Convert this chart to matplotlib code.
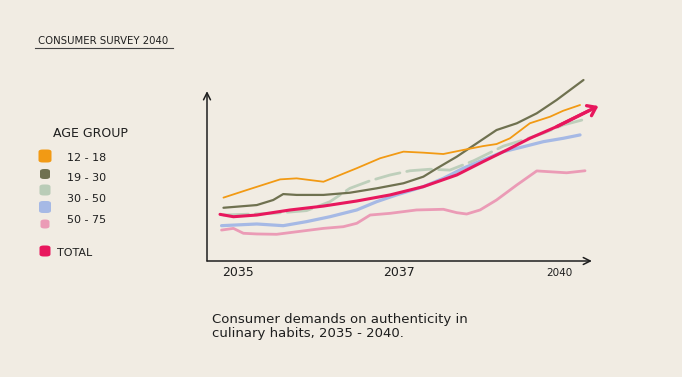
import matplotlib
matplotlib.use('Agg')
import matplotlib.pyplot as plt
from matplotlib.patches import FancyBboxPatch

# colours
bg = '#f1ece3'
ink = '#1e1e1e'
colors = {
    '12 - 18': '#f29a14',
    '19 - 30': '#6f7150',
    '30 - 50': '#b9ccb7',
    '50 - 75': '#a6b9e5',
    'total': '#e8175d',
}
pink_col = '#eb9bb6'

# data (x: position along 2035-2040 timeline, 0-100; y: demand index)
x_1218 = [4.3, 10.4, 19.1, 23.4, 30.4, 39.1, 45.2, 51.3, 56.5, 61.7, 66.9, 72.1, 75.6, 79.1, 84.3, 89.6, 93.0, 97.4]
y_1218 = [37.5, 42.0, 48.3, 48.9, 46.9, 54.9, 60.8, 64.7, 64.1, 63.3, 65.7, 68.0, 69.2, 72.6, 81.5, 85.4, 88.9, 92.3]

x_1930 = [4.3, 13.0, 17.3, 19.9, 23.4, 30.4, 37.3, 44.3, 51.3, 56.5, 60.0, 65.2, 70.4, 75.6, 80.9, 86.1, 91.3, 98.3]
y_1930 = [31.5, 33.1, 36.1, 39.6, 39.1, 39.1, 40.4, 43.0, 46.0, 49.9, 54.8, 61.7, 69.6, 77.5, 81.5, 87.4, 95.3, 107.1]

x_3050a = [4.3, 17.3, 26.0, 32.1, 37.3, 42.6, 47.8, 53.0, 58.2, 63.4, 69.6, 77.4, 82.6, 87.8, 93.0, 99.6]
y_3050a = [27.2, 28.2, 29.8, 35.1, 43.0, 47.5, 50.9, 53.4, 54.3, 53.8, 59.3, 68.0, 71.6, 75.6, 80.5, 84.4]

x_3050b = [3.8, 13.0, 19.9, 26.0, 32.1, 39.1, 44.3, 49.5, 56.5, 61.7, 66.9, 72.1, 77.4, 82.6, 87.8, 93.0, 97.4]
y_3050b = [20.9, 21.9, 20.9, 23.3, 26.2, 30.2, 35.1, 39.1, 44.0, 48.9, 54.9, 59.8, 64.7, 67.6, 70.6, 72.6, 74.6]

x_5075 = [3.8, 6.9, 9.5, 13.0, 18.2, 23.4, 30.4, 35.6, 39.1, 42.6, 47.8, 54.7, 61.7, 65.2, 67.8, 71.3, 75.6, 80.9, 86.1, 89.6, 93.9, 98.7]
y_5075 = [18.3, 19.3, 16.4, 16.0, 15.8, 17.3, 19.3, 20.3, 22.3, 27.2, 28.2, 30.2, 30.6, 28.6, 27.8, 30.2, 36.1, 45.0, 53.3, 52.8, 52.2, 53.4]

x_total = [3.4, 6.9, 13.0, 21.7, 30.4, 39.1, 47.8, 56.5, 65.2, 72.1, 78.3, 84.3, 91.3, 100.0]
y_total = [27.6, 26.2, 27.2, 30.2, 32.5, 35.5, 39.1, 44.0, 50.9, 58.8, 65.7, 72.6, 79.5, 89.3]

tick_pos = [8, 50, 92]
tick_labels = ['2035', '2037', '2040']

fig = plt.figure(figsize=(6.82, 3.77), dpi=100, facecolor=bg)
ax = fig.add_axes([207 / 682, (377 - 261) / 377, (612 - 207) / 682, (261 - 70) / 377])
ax.set_facecolor(bg)
ax.set_xlim(0, (612 - 207) / 3.83)
ax.set_ylim(0, (261 - 70) / 1.69)
ax.axis('off')

sk = dict(solid_capstyle='round', solid_joinstyle='round')
ax.plot(x_3050a, y_3050a, color=colors['30 - 50'], lw=2.0, alpha=0.9,
        dashes=(9, 2.5), dash_capstyle='round', **sk)
ax.plot(x_5075, y_5075, color=pink_col, lw=2.0, **sk)
ax.plot(x_3050b, y_3050b, color=colors['50 - 75'], lw=2.3, **sk)
ax.plot(x_1930, y_1930, color=colors['19 - 30'], lw=1.6, **sk)
ax.plot(x_1218, y_1218, color=colors['12 - 18'], lw=1.3, **sk)
ax.plot(x_total, y_total, color=colors['total'], lw=2.2, **sk)

ax.annotate('', xy=(x_total[-1] + 2.2, y_total[-1] + 2.4), xytext=(x_total[-2], y_total[-2]),
            arrowprops=dict(arrowstyle='->,head_length=0.55,head_width=0.4',
                            color=colors['total'], lw=2.4, shrinkA=0, shrinkB=0))

# axes drawn as arrows
ax.annotate('', xy=(0, 100.5), xytext=(0, 0),
            arrowprops=dict(arrowstyle='->,head_length=0.5,head_width=0.25', color=ink, lw=1.1,
                            shrinkA=0, shrinkB=0))
ax.annotate('', xy=(100.5, 0), xytext=(0, 0),
            arrowprops=dict(arrowstyle='->,head_length=0.5,head_width=0.25', color=ink, lw=1.1,
                            shrinkA=0, shrinkB=0))

for p, lab in zip(tick_pos, tick_labels):
    fs = 7.5 if lab == '2040' else 9
    fig.text((207 + 3.83 * p) / 682, 1 - 273 / 377, lab, ha='center', va='center',
             fontsize=fs, color=ink)

# title
fig.text(38 / 682, 1 - 41 / 377, 'CONSUMER SURVEY 2040', fontsize=7.3, color=ink, va='center')
fig.add_artist(plt.Line2D([35 / 682, 173 / 682], [1 - 48 / 377, 1 - 48 / 377],
                          color='#444444', lw=0.8))

# legend
fig.text(53 / 682, 1 - 133 / 377, 'AGE GROUP', fontsize=9, color=ink, va='center')
legend_labels = ['12 - 18', '19 - 30', '30 - 50', '50 - 75', 'TOTAL']
sw = [(colors['12 - 18'], 156, 13), (colors['19 - 30'], 174, 10),
      (colors['30 - 50'], 190, 11), (colors['50 - 75'], 207, 12),
      (pink_col, 224, 9), (colors['total'], 251, 11)]
for c, yy, s in sw:
    fig.add_artist(FancyBboxPatch(((45 - s / 2) / 682, 1 - (yy + s / 2) / 377),
                                  s / 682, s / 377,
                                  boxstyle='round,pad=0,rounding_size=0.006',
                                  transform=fig.transFigure, fc=c, ec='none'))
label_pos = [(67, 158), (67, 178), (67, 199), (67, 220), (57, 253)]
for lab, (lx, ly) in zip(legend_labels, label_pos):
    fig.text(lx / 682, 1 - ly / 377, lab, fontsize=8, color=ink, va='center')

# caption
fig.text(212 / 682, 1 - 319 / 377, 'Consumer demands on authenticity in',
         fontsize=9.5, color=ink, va='center')
fig.text(212 / 682, 1 - 333 / 377, 'culinary habits, 2035 - 2040.',
         fontsize=9.5, color=ink, va='center')

fig.savefig('out.png', dpi=100, facecolor=bg)
